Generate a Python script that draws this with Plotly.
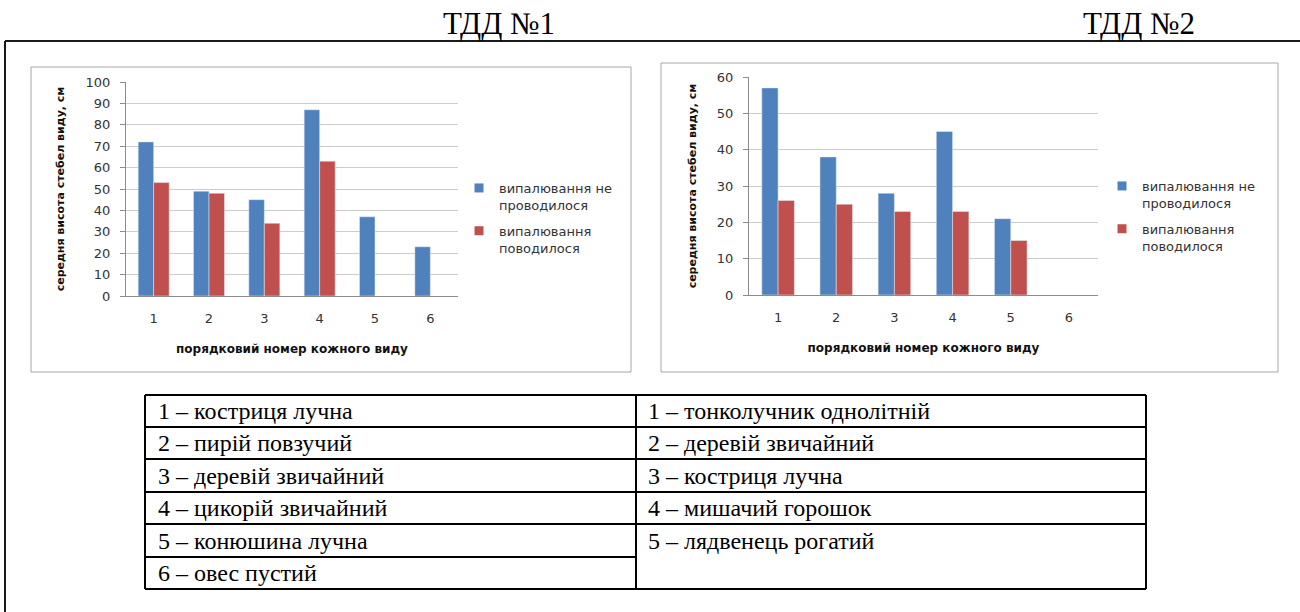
import plotly.graph_objects as go

# ---- data ----
species_idx = ["1", "2", "3", "4", "5", "6"]

tdd1_no_burn = [72, 49, 45, 87, 37, 23]
tdd1_burn = [53, 48, 34, 63, None, None]

tdd2_no_burn = [57, 38, 28, 45, 21, None]
tdd2_burn = [26, 25, 23, 23, 15, None]

series_names = ["випалювання не<br>проводилося", "випалювання<br>поводилося"]
panel_titles = ["ТДД №1", "ТДД №2"]
x_title = "порядковий номер кожного виду"
y_title = "середня висота стебел виду, см"

tdd1_species = [
    "1 – костриця лучна",
    "2 – пирій повзучий",
    "3 – деревій звичайний",
    "4 – цикорій звичайний",
    "5 – конюшина лучна",
    "6 – овес пустий",
]
tdd2_species = [
    "1 – тонколучник однолітній",
    "2 – деревій звичайний",
    "3 – костриця лучна",
    "4 – мишачий горошок",
    "5 – лядвенець рогатий",
]

# ---- styling ----
W, H = 1300, 612
BLUE = "#4F81BD"
RED = "#C0504D"
SANS = "DejaVu Sans"
SERIF = "Liberation Serif"


def fx(px):
    return px / W


def fy(py):
    return 1 - py / H


fig = go.Figure()

panels = [
    ("x", "y", "legend", (tdd1_no_burn, tdd1_burn)),
    ("x2", "y2", "legend2", (tdd2_no_burn, tdd2_burn)),
]
for k, (xa, ya, leg, values) in enumerate(panels):
    for name, vals, color in zip(series_names, values, (BLUE, RED)):
        fig.add_trace(go.Bar(x=species_idx, y=vals, name=name,
                             marker_color=color, xaxis=xa, yaxis=ya,
                             showlegend=False, legendgroup=f"{name}{k}"))
        # small square key for the legend
        fig.add_trace(go.Scatter(x=[None], y=[None], mode="markers", name=name,
                                 marker=dict(symbol="square", size=9, color=color),
                                 xaxis=xa, yaxis=ya, legend=leg,
                                 legendgroup=f"{name}{k}"))

tick_font = dict(family=SANS, size=13, color="#333333")
title_font = dict(family=SANS, size=12, color="#111111", weight="bold")

xaxis_common = dict(
    type="category", categoryorder="array", categoryarray=species_idx,
    range=[-0.5, 5.5], showline=True, linecolor="#8c8c8c", linewidth=1,
    ticks="", showgrid=False, tickfont=tick_font, ticklabelstandoff=10,
    title=dict(text=x_title, font=title_font, standoff=20), fixedrange=True,
    automargin=False,
)
yaxis_common = dict(
    showline=True, linecolor="#8c8c8c", linewidth=1, ticks="outside",
    ticklen=5, tickcolor="#8c8c8c", showgrid=True, gridcolor="#cccccc",
    gridwidth=1, tickfont=tick_font, dtick=10, zeroline=False,
    ticklabelstandoff=7,
    title=dict(text=y_title, font=dict(family=SANS, size=11, color="#111111",
                                       weight="bold"), standoff=18),
    fixedrange=True, automargin=False,
)

legend_common = dict(
    xanchor="left", yanchor="top",
    font=dict(family=SANS, size=13, color="#333333"),
    valign="top", tracegroupgap=6, traceorder="grouped",
    bgcolor="rgba(0,0,0,0)", itemclick=False, itemdoubleclick=False,
)

fig.update_layout(
    width=W, height=H,
    margin=dict(l=0, r=0, t=0, b=0, pad=0, autoexpand=False),
    paper_bgcolor="white", plot_bgcolor="white",
    barmode="group", bargap=0.44, bargroupgap=0,
    xaxis=dict(domain=[fx(126), fx(458)], anchor="y", **xaxis_common),
    yaxis=dict(domain=[fy(296), fy(82)], anchor="x", range=[0, 100],
               **yaxis_common),
    xaxis2=dict(domain=[fx(749), fx(1098)], anchor="y2", **xaxis_common),
    yaxis2=dict(domain=[fy(295), fy(77)], anchor="x2", range=[0, 60],
                **yaxis_common),
    legend=dict(x=fx(459), y=fy(173), **legend_common),
    legend2=dict(x=fx(1102), y=fy(171), **legend_common),
    showlegend=True,
)

shapes = []
# outer frame: top rule and left rule
shapes.append(dict(type="line", xref="paper", yref="paper",
                   x0=fx(5), x1=fx(1300), y0=fy(41), y1=fy(41),
                   line=dict(color="#1a1a1a", width=2)))
shapes.append(dict(type="line", xref="paper", yref="paper",
                   x0=fx(5), x1=fx(5), y0=fy(41), y1=fy(612),
                   line=dict(color="#1a1a1a", width=2)))
# chart panels
shapes.append(dict(type="rect", xref="paper", yref="paper", layer="below",
                   x0=fx(31), x1=fx(631), y0=fy(372), y1=fy(67),
                   line=dict(color="#a6a6a6", width=1)))
shapes.append(dict(type="rect", xref="paper", yref="paper", layer="below",
                   x0=fx(661), x1=fx(1278), y0=fy(372), y1=fy(63),
                   line=dict(color="#a6a6a6", width=1)))

# species table
tbl_left, tbl_mid, tbl_right = 145, 636, 1146
row_lines = [395, 427, 459, 492, 524, 557, 589]
tline = dict(color="#000000", width=2)
for i, yl in enumerate(row_lines):
    shapes.append(dict(type="line", xref="paper", yref="paper",
                       x0=fx(tbl_left), x1=fx(tbl_mid), y0=fy(yl), y1=fy(yl),
                       line=tline))
    if i <= len(tdd2_species) - 1 or i == len(row_lines) - 1:
        shapes.append(dict(type="line", xref="paper", yref="paper",
                           x0=fx(tbl_mid), x1=fx(tbl_right), y0=fy(yl), y1=fy(yl),
                           line=tline))
for xl in (tbl_left, tbl_mid, tbl_right):
    shapes.append(dict(type="line", xref="paper", yref="paper",
                       x0=fx(xl), x1=fx(xl), y0=fy(row_lines[0]), y1=fy(row_lines[-1]),
                       line=tline))

annotations = []
for cx, txt in zip((499, 1139), panel_titles):
    annotations.append(dict(text=txt, xref="paper", yref="paper",
                            x=fx(cx), y=fy(43), xanchor="center", yanchor="bottom",
                            showarrow=False,
                            font=dict(family=SERIF, size=31, color="#000000")))

table_font = dict(family=SERIF, size=24, color="#000000")
for i, txt in enumerate(tdd1_species):
    yc = (row_lines[i] + row_lines[i + 1]) / 2
    annotations.append(dict(text=txt, xref="paper", yref="paper",
                            x=fx(156), y=fy(yc), xanchor="left", yanchor="middle",
                            showarrow=False, font=table_font))
for i, txt in enumerate(tdd2_species):
    yc = (row_lines[i] + row_lines[i + 1]) / 2
    annotations.append(dict(text=txt, xref="paper", yref="paper",
                            x=fx(646), y=fy(yc), xanchor="left", yanchor="middle",
                            showarrow=False, font=table_font))

fig.update_layout(shapes=shapes, annotations=annotations)

fig.write_html(
    "out.html",
    config={"displayModeBar": False},
    post_script="document.body.style.margin='0';"
                "document.documentElement.style.overflow='hidden';",
)
